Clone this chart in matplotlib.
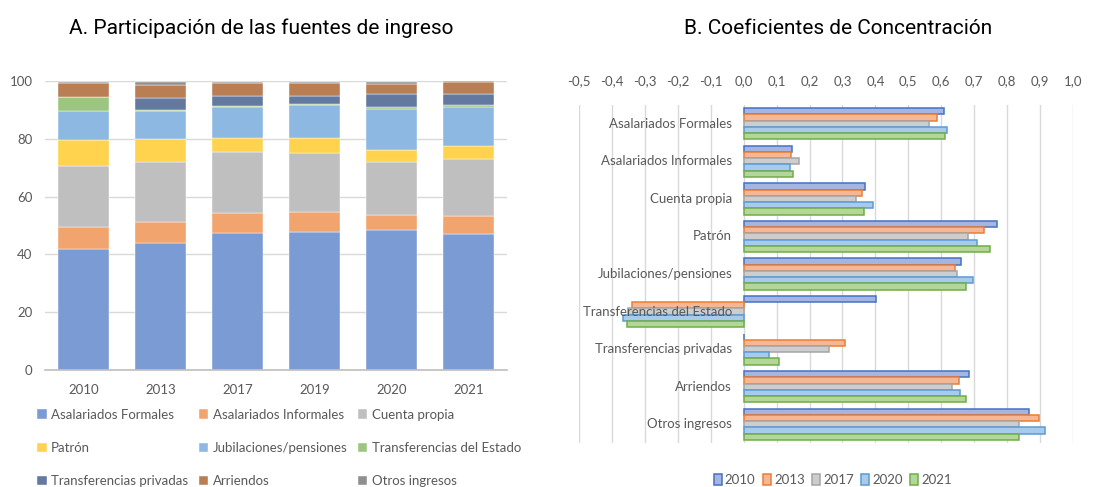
import numpy as np
import matplotlib
matplotlib.use("Agg")
import matplotlib.pyplot as plt
from matplotlib.patches import Patch

# Panel A: income source shares (%)
years_a = ["2010", "2013", "2017", "2019", "2020", "2021"]
sources = ["Asalariados Formales", "Asalariados Informales", "Cuenta propia",
           "Patrón", "Jubilaciones/pensiones", "Transferencias del Estado",
           "Transferencias privadas", "Arriendos", "Otros ingresos"]
formales = [42.0, 43.9, 47.4, 47.9, 48.3, 46.9]
informales = [7.4, 7.4, 6.8, 6.8, 5.3, 6.3]
cuenta_propia = [21.3, 20.8, 21.3, 20.2, 18.5, 19.8]
patron = [8.7, 7.8, 4.9, 5.5, 4.0, 4.4]
jubilaciones = [10.1, 9.6, 10.6, 11.1, 14.3, 13.7]
estado = [5.0, 0.5, 0.3, 0.4, 0.5, 0.4]
privadas = [0.0, 3.9, 3.6, 3.0, 4.5, 4.1]
arriendos = [4.7, 4.8, 4.3, 4.3, 3.6, 4.1]
otros = [0.5, 1.0, 0.5, 0.5, 0.7, 0.3]
shares = [formales, informales, cuenta_propia, patron, jubilaciones,
          estado, privadas, arriendos, otros]
colors_a = ["#7B9BD4", "#F2A46F", "#BFBFBF", "#FFD34D", "#8DB8E1",
            "#9CC67F", "#64799F", "#B97E53", "#8F8F8F"]

# Panel B: concentration coefficients
years_b = ["2010", "2013", "2017", "2020", "2021"]
coef_2010 = [0.607, 0.147, 0.368, 0.770, 0.660, 0.402, 0.0, 0.685, 0.865]
coef_2013 = [0.586, 0.144, 0.360, 0.730, 0.641, -0.340, 0.308, 0.655, 0.897]
coef_2017 = [0.563, 0.168, 0.341, 0.681, 0.649, -0.350, 0.260, 0.632, 0.836]
coef_2020 = [0.617, 0.140, 0.392, 0.709, 0.696, -0.367, 0.078, 0.657, 0.914]
coef_2021 = [0.611, 0.151, 0.365, 0.749, 0.674, -0.353, 0.108, 0.674, 0.836]
coefs = [coef_2010, coef_2013, coef_2017, coef_2020, coef_2021]
edge_b = ["#4472C4", "#ED7D31", "#A5A5A5", "#5B9BD5", "#70AD47"]
face_b = ["#A3B5E0", "#F6B894", "#CDCDCD", "#A8CBEB", "#B3D69B"]

txt = "#595959"
grid = "#D9D9D9"
body_font = "Lato"
title_font = "Roboto"
fs = 9.5

fig = plt.figure(figsize=(11.06, 4.87), dpi=100)

# ---------- Panel A ----------
ax1 = fig.add_axes([0.0407, 0.240, 0.4177, 0.594])
x = np.arange(len(years_a))
bottom = np.zeros(len(years_a))
for vals, col, name in zip(shares, colors_a, sources):
    ax1.bar(x, vals, bottom=bottom, width=0.675, color=col, label=name,
            edgecolor="white", linewidth=0.3, zorder=2)
    bottom += np.array(vals)
ax1.set_xlim(-0.5, len(years_a) - 0.5)
ax1.set_ylim(0, 100)
ax1.set_yticks(range(0, 101, 20))
ax1.set_xticks(x)
ax1.set_xticklabels(years_a)
ax1.yaxis.grid(True, color=grid, linewidth=1, zorder=0)
ax1.set_axisbelow(True)
for s in ["top", "right", "left"]:
    ax1.spines[s].set_visible(False)
ax1.spines["bottom"].set_color("#BFBFBF")
ax1.spines["bottom"].set_linewidth(1.2)
ax1.tick_params(length=0, labelsize=fs, labelcolor=txt)
ax1.tick_params(axis="y", pad=9)
ax1.tick_params(axis="x", pad=10)
for lab in ax1.get_xticklabels() + ax1.get_yticklabels():
    lab.set_family(body_font)
fig.text(0.236, 0.942, "A. Participación de las fuentes de ingreso",
         ha="center", va="center", family=title_font, fontsize=15)

h, l = ax1.get_legend_handles_labels()
order = [0, 3, 6, 1, 4, 7, 2, 5, 8]
ax1.legend([h[i] for i in order], [l[i] for i in order], ncol=3,
           loc="upper left", bbox_to_anchor=(-0.028, -0.115), frameon=False,
           prop={"family": body_font, "size": fs}, labelcolor=txt,
           handlelength=0.7, handleheight=0.7, handletextpad=0.35,
           columnspacing=0.8, labelspacing=1.6, borderaxespad=0)

# ---------- Panel B ----------
ax2 = fig.add_axes([0.5235, 0.0903, 0.4467, 0.694])
n_cat = len(sources)
n_yr = len(years_b)
bh = 0.166
yc = np.arange(n_cat)
for i, (vals, fc, ec, yr) in enumerate(zip(coefs, face_b, edge_b, years_b)):
    off = (i - (n_yr - 1) / 2) * bh
    ax2.barh(yc + off, vals, height=bh, color=fc, edgecolor=ec,
             linewidth=1.1, label=yr, zorder=2)
ax2.set_xlim(-0.5, 1.0)
ax2.set_ylim(n_cat - 0.5, -0.5)
ticks = np.round(np.arange(-0.5, 1.01, 0.1), 1)
ax2.set_xticks(ticks)
ax2.set_xticklabels([f"{t:.1f}".replace(".", ",").replace("-0,0", "0,0") for t in ticks])
ax2.xaxis.tick_top()
ax2.set_yticks([])
ax2.xaxis.grid(True, color=grid, linewidth=1, zorder=0)
ax2.set_axisbelow(True)
for s in ax2.spines.values():
    s.set_visible(False)
ax2.tick_params(length=0, labelsize=fs, labelcolor=txt, pad=13)
for lab in ax2.get_xticklabels():
    lab.set_family(body_font)
for yi, name in zip(yc, sources):
    ax2.text(-0.035, yi, name, ha="right", va="center", fontsize=fs,
             color=txt, family=body_font, zorder=3)
fig.text(0.758, 0.942, "B. Coeficientes de Concentración", ha="center",
         va="center", family=title_font, fontsize=15)

hb = [Patch(facecolor=fc, edgecolor=ec, linewidth=1.1) for fc, ec in zip(face_b, edge_b)]
fig.legend(hb, years_b, ncol=5, loc="center", bbox_to_anchor=(0.753, 0.014),
           frameon=False, prop={"family": body_font, "size": fs}, labelcolor=txt,
           handlelength=0.6, handleheight=0.9, handletextpad=0.25,
           columnspacing=0.55)

fig.savefig("out.png", dpi=100)
